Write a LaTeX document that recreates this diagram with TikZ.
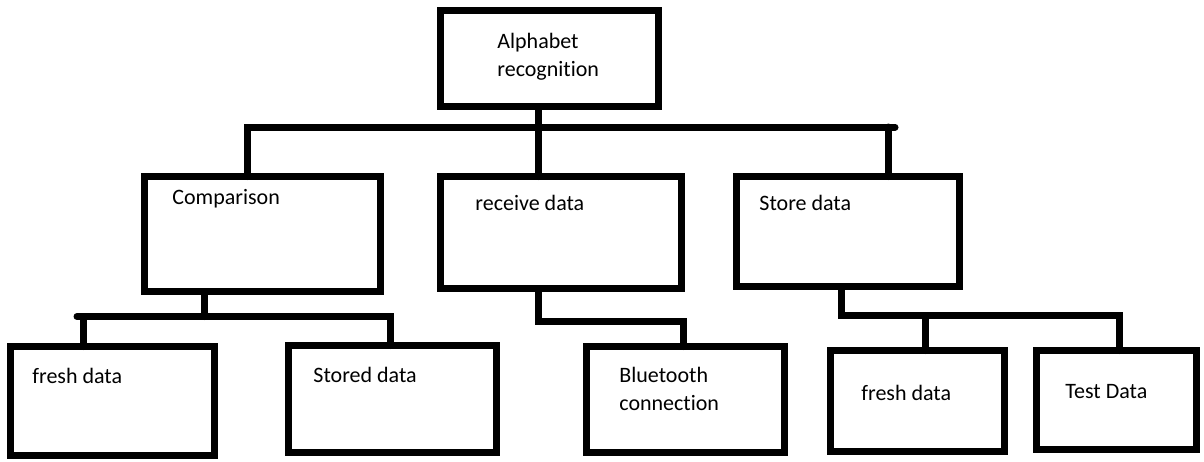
\documentclass[tikz,border=0pt]{standalone}
\usepackage{fontspec}
\setmainfont{Carlito}[Ligatures=NoCommon]
\tikzset{
  blk/.style = {draw=black, line width=3.5pt, rectangle, inner sep=0pt,
    outer sep=0pt},% box outline
  txt/.style = {anchor=west, inner sep=0pt, align=left,
    font=\fontsize{11pt}{14pt}\selectfont},
  wire/.style = {line width=3.5pt, line cap=round},
}

\begin{document}
\begin{tikzpicture}[x=0.5pt,y=-0.5pt]
\useasboundingbox (0,0) rectangle (1204,461);
% level 0
\node [blk, minimum width=109pt, minimum height=48pt] (alpha) at (549.5,58.5) {};
% level 1
\node [blk, minimum width=118pt, minimum height=57.5pt] (comp) at (262.5,234) {};
\node [blk, minimum width=120.5pt, minimum height=56pt] (recv) at (561,232.5) {};
\node [blk, minimum width=111.5pt, minimum height=55pt] (store) at (848,231.5) {};
% level 2
\node [blk, minimum width=102pt, minimum height=54.5pt] (freshA) at (112.5,401) {};
\node [blk, minimum width=104pt, minimum height=53.5pt] (stored) at (392.5,399) {};
\node [blk, minimum width=99pt, minimum height=53pt] (blue) at (685.5,399.5) {};
\node [blk, minimum width=87pt, minimum height=50.5pt] (freshB) at (917.5,401) {};
\node [blk, minimum width=80pt, minimum height=49.5pt] (test) at (1116.5,400) {};
% texts
\node [txt] (t_alpha) at (497,57) {Alphabet\\recognition};
\node [txt] (t_comp) at (172,199) {Comparison};
\node [txt] (t_recv) at (475,203) {receive data};
\node [txt] (t_store) at (759,203) {Store data};
\node [txt] (t_freshA) at (32,376) {fresh data};
\node [txt] (t_stored) at (313,375) {Stored data};
\node [txt] (t_blue) at (619,389) {Bluetooth\\connection};
\node [txt] (t_freshB) at (861,393) {fresh data};
\node [txt] (t_test) at (1065,392) {Test Data};
% junctions
\coordinate (j0) at (538,127);
\coordinate (j1) at (247,127);
\coordinate (j2) at (888,127);
\coordinate (j2e) at (895,127);
\coordinate (k0) at (204,316.5);
\coordinate (k1) at (83,316.5);
\coordinate (k1e) at (77,316.5);
\coordinate (k2) at (390,316.5);
\coordinate (m0) at (538,321);
\coordinate (m1) at (683,321);
\coordinate (n0) at (841,315.5);
\coordinate (n1) at (925,315.5);
\coordinate (n2) at (1119,315.5);
% connectors
\draw [wire] (j0 |- alpha.south) -- (j0);
\draw [wire] (j1 |- comp.north) -- (j1) -- (j2e);
\draw [wire] (j0) -- (j0 |- recv.north);
\draw [wire] (j2) -- (j2 |- store.north);
\draw [wire] (k0 |- comp.south) -- (k0);
\draw [wire] (k1e) -- (k2) -- (k2 |- stored.north);
\draw [wire] (k1) -- (k1 |- freshA.north);
\draw [wire] (m0 |- recv.south) -- (m0) -- (m1) -- (m1 |- blue.north);
\draw [wire] (n0 |- store.south) -- (n0) -- (n2) -- (n2 |- test.north);
\draw [wire] (n1) -- (n1 |- freshB.north);
\end{tikzpicture}
\end{document}
